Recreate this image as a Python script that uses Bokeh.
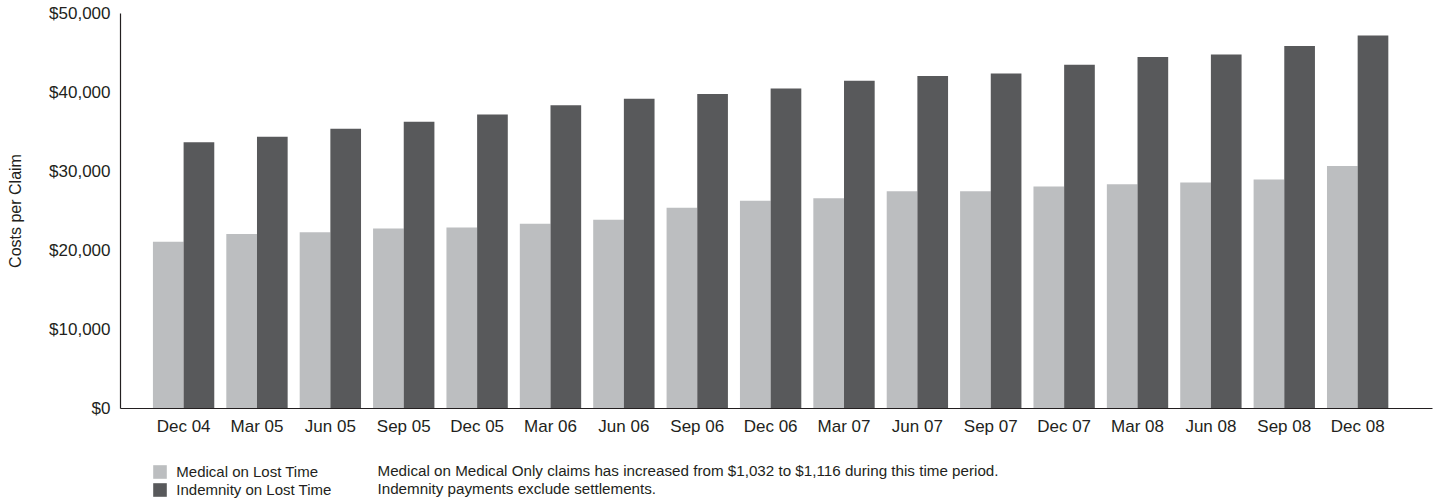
from bokeh.plotting import figure
from bokeh.layouts import column
from bokeh.models import (ColumnDataSource, FixedTicker, NumeralTickFormatter, Range1d,
                          Legend, LegendItem, Label)
from bokeh.transform import dodge
from bokeh.embed import file_html
from bokeh.resources import INLINE

periods = ["Dec 04", "Mar 05", "Jun 05", "Sep 05", "Dec 05", "Mar 06", "Jun 06", "Sep 06",
           "Dec 06", "Mar 07", "Jun 07", "Sep 07", "Dec 07", "Mar 08", "Jun 08", "Sep 08", "Dec 08"]
medical = [21100, 22100, 22300, 22800, 22900, 23400, 23900, 25400, 26300, 26600,
           27500, 27500, 28100, 28400, 28600, 29000, 30700]
indemnity = [33700, 34400, 35400, 36300, 37200, 38400, 39200, 39800, 40500, 41500,
             42100, 42400, 43500, 44500, 44800, 45900, 47200]
y_ticks = [0, 10000, 20000, 30000, 40000, 50000]
series_names = ["Medical on Lost Time", "Indemnity on Lost Time"]
notes = ["Medical on Medical Only claims has increased from $1,032 to $1,116 during this time period.",
         "Indemnity payments exclude settlements."]

FONT = "Liberation Sans"
TXT = "#231f20"
C_MED = "#bcbec0"
C_IND = "#58595b"

idx = list(range(len(periods)))
src = ColumnDataSource(dict(x=idx, medical=medical, indemnity=indemnity))

# ---------------- main chart ----------------
p = figure(width=1442, height=438, output_backend="svg", toolbar_location=None,
           x_range=Range1d(-0.86, 17.02), y_range=Range1d(0, 50000),
           min_border_left=120, min_border_right=10, min_border_top=13, min_border_bottom=29)
p.outline_line_color = None
p.xgrid.grid_line_color = None
p.ygrid.grid_line_color = None

bw = 0.418
r_med = p.vbar(x=dodge("x", -bw / 2, range=p.x_range), top="medical", width=bw, bottom=0,
               source=src, fill_color=C_MED, line_color=None)
r_ind = p.vbar(x=dodge("x", bw / 2, range=p.x_range), top="indemnity", width=bw, bottom=0,
               source=src, fill_color=C_IND, line_color=None)

xa = p.xaxis[0]
xa.ticker = FixedTicker(ticks=idx)
xa.major_label_overrides = {i: lab for i, lab in zip(idx, periods)}
xa.major_tick_line_color = None
xa.major_tick_out = 0
xa.major_tick_in = 0
xa.minor_tick_line_color = None
xa.major_label_standoff = 8
xa.major_label_text_font = FONT
xa.major_label_text_font_size = "17px"
xa.major_label_text_color = TXT
xa.axis_line_color = TXT
xa.axis_line_width = 1.2

ya = p.yaxis[0]
ya.ticker = FixedTicker(ticks=y_ticks)
ya.formatter = NumeralTickFormatter(format="$0,0")
ya.major_tick_line_color = None
ya.major_tick_out = 0
ya.major_tick_in = 0
ya.minor_tick_line_color = None
ya.major_label_standoff = 10
ya.major_label_text_font = FONT
ya.major_label_text_font_size = "17px"
ya.major_label_text_color = TXT
ya.axis_line_color = TXT
ya.axis_line_width = 1.2
ya.axis_label = "Costs per Claim"
ya.axis_label_text_font = FONT
ya.axis_label_text_font_style = "normal"
ya.axis_label_text_font_size = "16px"
ya.axis_label_text_color = TXT
ya.axis_label_standoff = 22

# ---------------- legend / notes strip (frame aligned with the chart above) ----------------
q = figure(width=1442, height=65, output_backend="svg", toolbar_location=None,
           x_range=Range1d(-40, -20), y_range=Range1d(-100000, -50000),
           x_axis_location=None, y_axis_location=None,
           min_border_left=120, min_border_right=10, min_border_top=0, min_border_bottom=0)
q.outline_line_color = None
q.grid.visible = False

# same series, hidden in this strip: only their legend swatches show
k_med = q.vbar(x="x", top="medical", bottom=0, width=0.4, source=src, fill_color=C_MED,
               line_color=None, visible=False)
k_ind = q.vbar(x="x", top="indemnity", bottom=0, width=0.4, source=src, fill_color=C_IND,
               line_color=None, visible=False)

legend = Legend(items=[LegendItem(label=series_names[0], renderers=[k_med]),
                       LegendItem(label=series_names[1], renderers=[k_ind])],
                location=(31.3, 5.5), orientation="vertical",
                glyph_width=17, glyph_height=17, label_height=17, label_width=10,
                spacing=1, padding=0, margin=0, label_standoff=8,
                border_line_color=None, background_fill_alpha=0,
                label_text_font=FONT, label_text_font_size="15px", label_text_color=TXT)
q.add_layout(legend)

for k, t in enumerate(notes):
    q.add_layout(Label(x=257, y=33 - 18 * k, x_units="screen", y_units="screen", text=t,
                       text_baseline="middle", text_align="left", text_font=FONT,
                       text_font_size="15.2px", text_color=TXT))

layout = column(p, q, spacing=0)
open("out.html", "w").write(file_html(layout, INLINE))
